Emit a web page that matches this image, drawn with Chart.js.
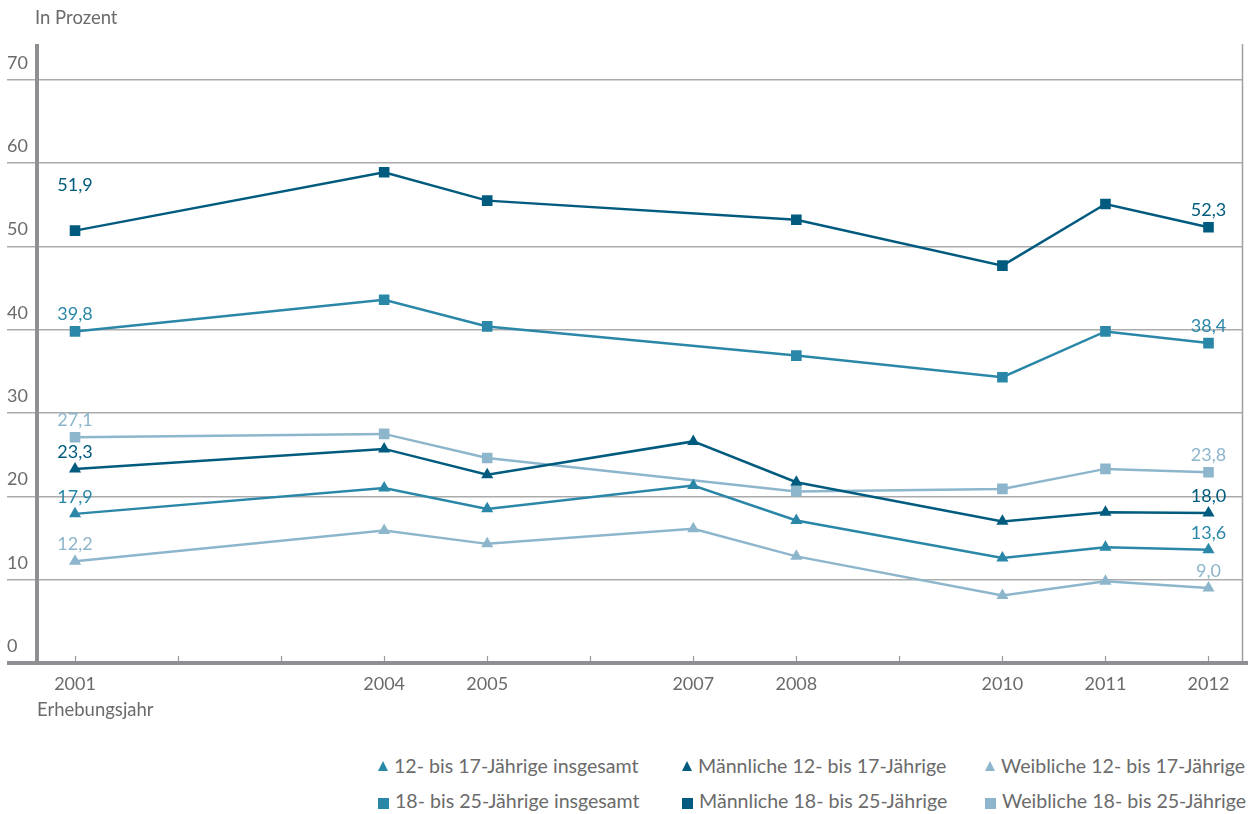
<!DOCTYPE html>
<html>
<head>
<meta charset="utf-8">
<script src="https://cdn.jsdelivr.net/npm/chart.js@4"></script>
<style>
  body { margin: 0; background: #fff; font-family: Lato, sans-serif; color: #6b6b6b; }
  #wrap { position: relative; width: 1248px; height: 814px; overflow: hidden; }
  #chart { position: absolute; left: 0; top: 0; }
  .note { position: absolute; font-size: 18.5px; color: #6b6b6b; }
  .item { position: absolute; font-size: 19.6px; color: #6b6b6b; white-space: nowrap; line-height: 22px; }
  .item i { display: inline-block; margin-right: 6px; vertical-align: 2px; }
</style>
</head>
<body>
<div id="wrap">
  <canvas id="chart" width="1250" height="700"></canvas>
  <div class="note" style="left:35px; top:6px;">In Prozent</div>
  <div class="note" style="left:37px; top:698px;">Erhebungsjahr</div>
  <div id="legend"></div>
</div>
<script>
// Survey years and values (percent)
const years = [2001, 2004, 2005, 2007, 2008, 2010, 2011, 2012];

const total12 = [17.9, 21.0, 18.5, 21.3, 17.1, 12.6, 13.9, 13.6];
const male12 = [23.3, 25.7, 22.6, 26.6, 21.7, 17.0, 18.1, 18.0];
const female12 = [12.2, 15.9, 14.3, 16.1, 12.8, 8.1, 9.8, 9.0];
const total18 = [39.8, 43.6, 40.4, null, 36.9, 34.3, 39.8, 38.4];
const male18 = [51.9, 58.9, 55.5, null, 53.2, 47.7, 55.1, 52.3];
const female18 = [27.1, 27.5, 24.6, null, 20.6, 20.9, 23.3, 22.9];

const seriesNames = [
  "12- bis 17-Jährige insgesamt",
  "Männliche 12- bis 17-Jährige",
  "Weibliche 12- bis 17-Jährige",
  "18- bis 25-Jährige insgesamt",
  "Männliche 18- bis 25-Jährige",
  "Weibliche 18- bis 25-Jährige"
];

// value labels shown at the first and last year
const startLabels = ["17,9", "23,3", "12,2", "39,8", "51,9", "27,1"];
const endLabels = ["13,6", "18,0", "9,0", "38,4", "52,3", "23,8"];

const yTicks = [0, 10, 20, 30, 40, 50, 60, 70];

const DARK = "#005b7f";
const MID = "#2b87a8";
const LIGHT = "#8db6cc";
const colors = [MID, DARK, LIGHT, MID, DARK, LIGHT];
const styles = ["triangle", "triangle", "triangle", "rect", "rect", "rect"];
const seriesData = [total12, male12, female12, total18, male18, female18];

// extra lift for a label that sits higher in the original
const labelLift = { "4-0": 28 };

const datasets = seriesData.map((vals, i) => ({
  label: seriesNames[i],
  data: vals.map((v, j) => ({ x: years[j], y: v })),
  borderColor: colors[i],
  backgroundColor: colors[i],
  borderWidth: 2.5,
  pointStyle: styles[i],
  pointRadius: styles[i] === "rect" ? 7.5 : 7,
  pointBorderWidth: 0,
  spanGaps: true,
  tension: 0
}));

const axisPlugin = {
  id: "axisLines",
  beforeDatasetsDraw(chart) {
    const { ctx, chartArea: a, scales: { x } } = chart;
    ctx.save();
    // year ticks
    ctx.strokeStyle = "#9a9a9e";
    ctx.lineWidth = 1.2;
    for (let yr = 2001; yr <= 2012; yr++) {
      const px = Math.round(x.getPixelForValue(yr)) + 0.5;
      ctx.beginPath();
      ctx.moveTo(px, a.bottom - 7);
      ctx.lineTo(px, a.bottom);
      ctx.stroke();
    }
    // right border
    ctx.strokeStyle = "#a0a0a4";
    ctx.lineWidth = 1.5;
    ctx.beginPath();
    ctx.moveTo(a.right, a.top);
    ctx.lineTo(a.right, a.bottom);
    ctx.stroke();
    // y axis
    ctx.strokeStyle = "#8e8e93";
    ctx.lineWidth = 4;
    ctx.beginPath();
    ctx.moveTo(a.left, a.top);
    ctx.lineTo(a.left, a.bottom);
    ctx.stroke();
    // x axis
    ctx.beginPath();
    ctx.moveTo(7, a.bottom);
    ctx.lineTo(chart.width, a.bottom);
    ctx.stroke();
    ctx.restore();
  }
};

const labelPlugin = {
  id: "endLabels",
  afterDatasetsDraw(chart) {
    const { ctx } = chart;
    ctx.save();
    ctx.font = "18px Lato";
    ctx.textAlign = "center";
    ctx.textBaseline = "middle";
    chart.data.datasets.forEach((ds, i) => {
      const pts = chart.getDatasetMeta(i).data;
      const first = pts[0];
      const last = pts[pts.length - 1];
      ctx.fillStyle = colors[i];
      ctx.fillText(startLabels[i], first.x, first.y - 17 - (labelLift[i + "-0"] || 0));
      ctx.fillText(endLabels[i], last.x, last.y - 17);
    });
    ctx.restore();
  }
};

new Chart(document.getElementById("chart"), {
  type: "line",
  data: { datasets },
  options: {
    responsive: false,
    animation: false,
    layout: { padding: { top: 44, left: 7, right: 0, bottom: 0 } },
    plugins: {
      legend: { display: false },
      tooltip: { enabled: false }
    },
    scales: {
      x: {
        type: "linear",
        min: 2000.631,
        max: 2012.33,
        border: { display: false },
        grid: { display: false },
        ticks: {
          stepSize: 1,
          autoSkip: false,
          includeBounds: false,
          padding: 2,
          color: "#6b6b6b",
          font: { family: "Lato", size: 18 },
          callback: v => (years.includes(v) ? String(v) : "")
        },
        afterFit: s => { s.height = 37; }
      },
      y: {
        min: 0,
        max: 74.3,
        border: { display: false },
        grid: { color: "#ababab", lineWidth: 1.5, tickLength: 30, tickColor: "#ababab" },
        afterBuildTicks: s => { s.ticks = yTicks.map(v => ({ value: v })); },
        ticks: {
          crossAlign: "far",
          labelOffset: -17,
          color: "#6b6b6b",
          font: { family: "Lato", size: 18 }
        },
        afterFit: s => { s.width = 30; }
      }
    }
  },
  plugins: [axisPlugin, labelPlugin]
});

// legend in two rows of three
const legend = document.getElementById("legend");
const colX = [378, 682, 985];
const rowY = [755, 790];
seriesNames.forEach((name, i) => {
  const el = document.createElement("div");
  el.className = "item";
  el.style.left = colX[i % 3] + "px";
  el.style.top = rowY[Math.floor(i / 3)] + "px";
  const mk = document.createElement("i");
  if (styles[i] === "triangle") {
    mk.style.width = "0";
    mk.style.height = "0";
    mk.style.borderLeft = "5px solid transparent";
    mk.style.borderRight = "5px solid transparent";
    mk.style.borderBottom = "10px solid " + colors[i];
  } else {
    mk.style.width = "11px";
    mk.style.height = "11px";
    mk.style.background = colors[i];
    mk.style.verticalAlign = "-1px";
  }
  el.appendChild(mk);
  el.appendChild(document.createTextNode(name));
  legend.appendChild(el);
});
</script>
</body>
</html>
